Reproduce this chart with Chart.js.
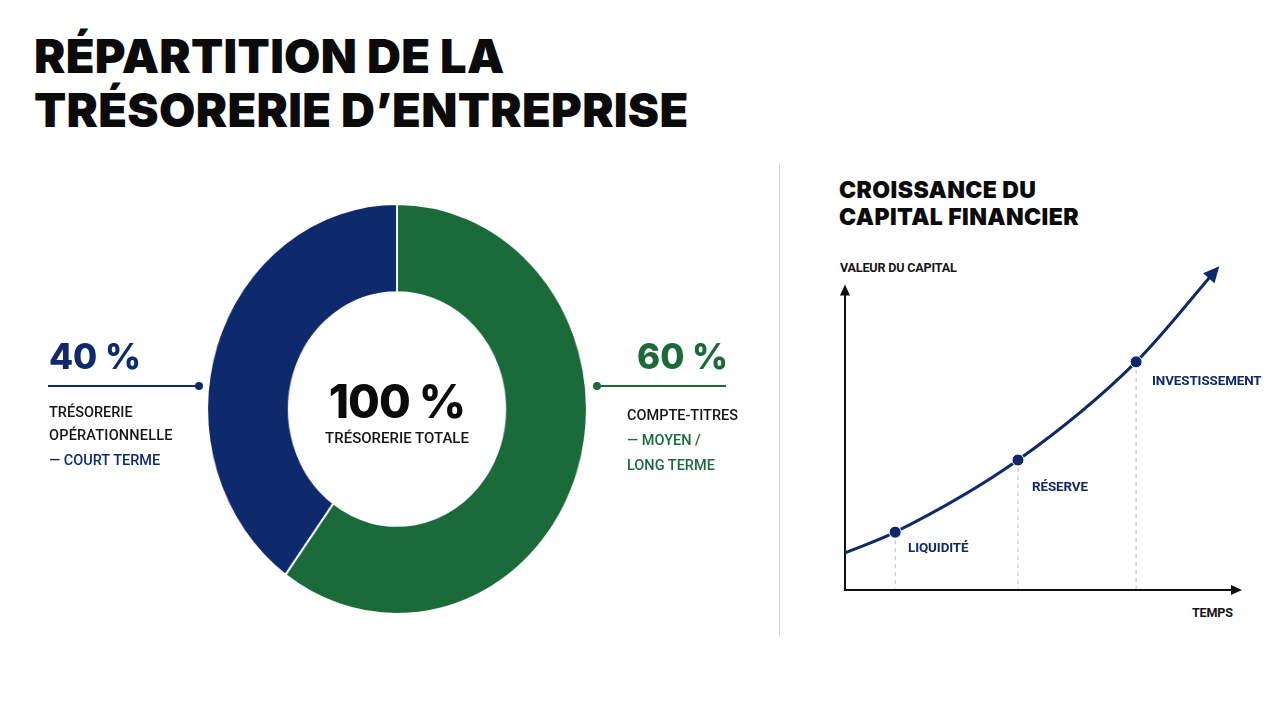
<!DOCTYPE html>
<html><head><meta charset="utf-8">
<script src="https://cdn.jsdelivr.net/npm/chart.js@4.4.1/dist/chart.umd.min.js"></script>
<style>
html,body{margin:0;padding:0;background:#fff;}
body{width:1280px;height:702px;position:relative;overflow:hidden;font-family:Roboto,"Noto Sans",sans-serif;}
.t{position:absolute;white-space:nowrap;line-height:1;}
#title{left:34px;top:29px;font-family:Inter,sans-serif;font-weight:900;font-size:47px;line-height:54px;color:#0b0b0b;letter-spacing:0.3px;}
#sub{left:839px;top:177px;font-family:Inter,sans-serif;font-weight:900;font-size:23px;line-height:27px;color:#0b0b0b;letter-spacing:0.4px;}
.pct{font-family:Inter,sans-serif;font-weight:800;font-size:35px;}
.lab{font-weight:500;font-size:14.5px;color:#151515;}
.navy{color:#10296b;}
.green{color:#1c6a3b;}
.hl{position:absolute;height:2px;}
.dot{position:absolute;width:8px;height:8px;border-radius:50%;}
#dwrap{position:absolute;left:191px;top:203px;width:412px;height:412px;transform:scaleX(0.926);transform-origin:50% 50%;}
#lwrap{position:absolute;left:800px;top:240px;width:470px;height:400px;}
#div{position:absolute;left:779px;top:163px;width:1px;height:474px;background:#d8d8d8;}
.axl{font-weight:700;font-size:12.6px;color:#151515;letter-spacing:-0.2px;}
.pl{font-weight:700;font-size:13.4px;letter-spacing:-0.1px;}
</style></head>
<body>
<div id="title" class="t">RÉPARTITION DE LA<br>TRÉSORERIE D’ENTREPRISE</div>

<div id="dwrap"><canvas id="donut" width="412" height="412"></canvas></div>

<div class="t" style="left:0;width:794px;top:378px;text-align:center;font-family:Inter,sans-serif;font-weight:800;font-size:46px;color:#0b0b0b;letter-spacing:-1px;">100 %</div>
<div class="t" style="left:0;width:794px;top:431px;text-align:center;font-weight:500;font-size:15px;color:#151515;">TRÉSORERIE TOTALE</div>

<div id="pL" class="t pct navy" style="left:49px;top:339px;">40 %</div>
<div class="hl" style="left:48px;top:385px;width:151px;background:#10296b;"></div>
<div class="dot" style="left:195px;top:382px;background:#10296b;"></div>
<div class="t lab" style="left:49px;top:406px;">TRÉSORERIE</div>
<div class="t lab" style="left:49px;top:429px;letter-spacing:0.2px;">OPÉRATIONNELLE</div>
<div class="t lab navy" style="left:49px;top:454px;">— COURT TERME</div>

<div id="pR" class="t pct green" style="left:637px;top:339px;">60 %</div>
<div class="hl" style="left:597px;top:385px;width:129px;background:#1c6a3b;"></div>
<div class="dot" style="left:593px;top:382px;background:#1c6a3b;"></div>
<div class="t lab" style="left:627px;top:409px;">COMPTE-TITRES</div>
<div class="t lab green" style="left:627px;top:434px;">— MOYEN /</div>
<div class="t lab green" style="left:627px;top:459px;">LONG TERME</div>

<div id="div"></div>

<div id="sub" class="t">CROISSANCE DU<br>CAPITAL FINANCIER</div>
<div class="t axl" style="left:840px;top:262px;">VALEUR DU CAPITAL</div>
<div class="t axl" style="left:1192px;top:607px;">TEMPS</div>

<div id="lwrap"><canvas id="line" width="470" height="400"></canvas></div>

<div class="t pl navy" style="left:908px;top:541px;">LIQUIDITÉ</div>
<div class="t pl navy" style="left:1032px;top:480px;">RÉSERVE</div>
<div class="t pl navy" style="left:1152px;top:374px;">INVESTISSEMENT</div>

<script>
// ---- Doughnut data ----
const shareLabels = ["Trésorerie opérationnelle — court terme", "Compte-titres — moyen / long terme"];
const shareValues = [40, 60];
const shareColors = ["#0f2a6c", "#1b6a3a"];

// ---- Growth curve data (arbitrary units) ----
const timeValues    = [0.00, 1.27, 4.38, 7.37, 9.36];
const capitalValues = [1.14, 1.78, 4.00, 7.02, 9.80];
const pointLabels   = ["", "LIQUIDITÉ", "RÉSERVE", "INVESTISSEMENT", ""];
const markedPoints  = [false, true, true, true, false];
const yAxisTop = 9.4;     // top of the drawn value axis
const xAxisEnd = 10.05;   // end of the drawn time axis

const NAVY = "#10296b";

new Chart(document.getElementById("donut"), {
  type: "doughnut",
  data: {
    labels: shareLabels,
    datasets: [{
      data: shareValues,
      backgroundColor: shareColors,
      borderColor: "#ffffff",
      borderWidth: 2,
      hoverOffset: 0
    }]
  },
  options: {
    responsive: false,
    animation: false,
    rotation: -144,
    cutout: "57%",
    layout: { padding: 0 },
    plugins: { legend: { display: false }, tooltip: { enabled: false } }
  }
});

function arrowHead(ctx, x, y, dx, dy, len, w, color) {
  const L = Math.hypot(dx, dy) || 1;
  const ux = dx / L, uy = dy / L;
  const px = -uy, py = ux;
  ctx.save();
  ctx.fillStyle = color;
  ctx.beginPath();
  ctx.moveTo(x, y);
  ctx.lineTo(x - ux * len + px * w, y - uy * len + py * w);
  ctx.lineTo(x - ux * len - px * w, y - uy * len - py * w);
  ctx.closePath();
  ctx.fill();
  ctx.restore();
}

const axesPlugin = {
  id: "axesPlugin",
  beforeDatasetsDraw(chart) {
    const ctx = chart.ctx;
    const xs = chart.scales.x, ys = chart.scales.y;
    const x0 = xs.getPixelForValue(0), y0 = ys.getPixelForValue(0);
    const yTop = ys.getPixelForValue(yAxisTop);
    const xEnd = xs.getPixelForValue(xAxisEnd);
    const meta = chart.getDatasetMeta(0);
    ctx.save();
    ctx.strokeStyle = "#b9b9b9";
    ctx.lineWidth = 1;
    ctx.setLineDash([4, 4]);
    meta.data.forEach((pt, i) => {
      if (!markedPoints[i]) return;
      ctx.beginPath();
      ctx.moveTo(pt.x, pt.y);
      ctx.lineTo(pt.x, y0);
      ctx.stroke();
    });
    ctx.restore();
    ctx.save();
    ctx.strokeStyle = "#111";
    ctx.lineWidth = 2;
    ctx.beginPath();
    ctx.moveTo(x0, yTop + 8);
    ctx.lineTo(x0, y0);
    ctx.lineTo(xEnd - 8, y0);
    ctx.stroke();
    ctx.restore();
    arrowHead(ctx, x0, yTop, 0, -1, 11, 5, "#111");
    arrowHead(ctx, xEnd, y0, 1, 0, 11, 5, "#111");
  },
  afterDatasetsDraw(chart) {
    const ctx = chart.ctx;
    const meta = chart.getDatasetMeta(0);
    const last = meta.data[meta.data.length - 1];
    const dx = last.x - last.cp1x, dy = last.y - last.cp1y;
    const L = Math.hypot(dx, dy) || 1;
    arrowHead(ctx, last.x + dx / L * 7, last.y + dy / L * 7, dx, dy, 16, 7.5, NAVY);
  }
};

new Chart(document.getElementById("line"), {
  type: "line",
  data: {
    labels: pointLabels,
    datasets: [{
      data: timeValues.map((t, i) => ({ x: t, y: capitalValues[i] })),
      borderColor: NAVY,
      borderWidth: 3,
      cubicInterpolationMode: "monotone",
      pointRadius: markedPoints.map(m => m ? 6 : 0),
      pointBackgroundColor: NAVY,
      pointBorderColor: "#ffffff",
      pointBorderWidth: 1,
      clip: false,
      fill: false
    }]
  },
  options: {
    responsive: false,
    animation: false,
    layout: { padding: { left: 45, right: 30, top: 25, bottom: 50 } },
    scales: {
      x: { type: "linear", min: 0, max: 10, display: false },
      y: { type: "linear", min: 0, max: 10, display: false }
    },
    plugins: { legend: { display: false }, tooltip: { enabled: false } }
  },
  plugins: [axesPlugin]
});
</script>
</body></html>
